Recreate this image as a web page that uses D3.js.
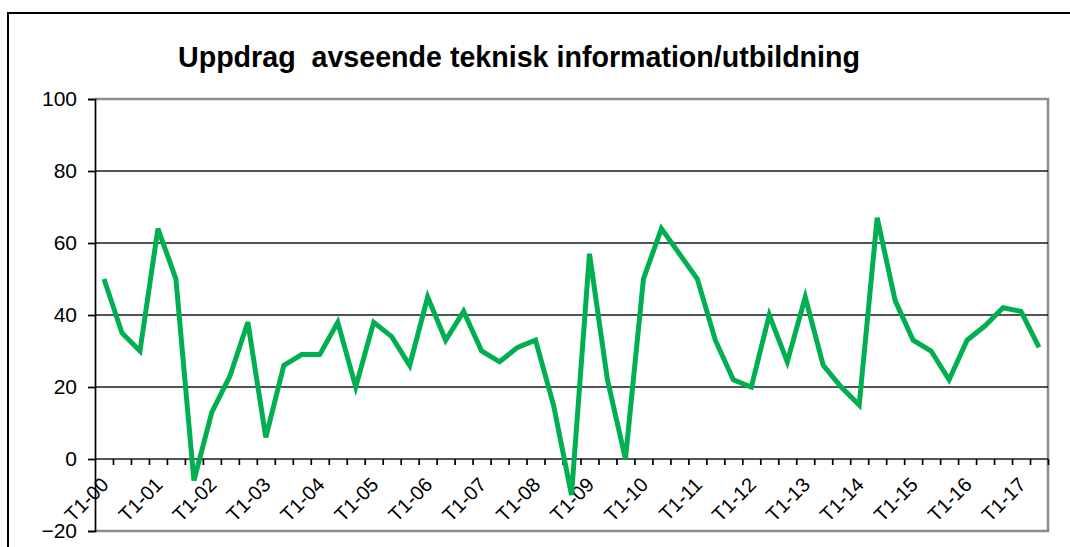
<!DOCTYPE html>
<html>
<head>
<meta charset="utf-8">
<script src="https://cdn.jsdelivr.net/npm/d3@7"></script>
<style>
  html, body { margin: 0; padding: 0; background: #fff; }
  svg { display: block; font-family: "Liberation Sans", Arial, sans-serif; }
  .title { white-space: pre; }
</style>
</head>
<body>
<svg id="chart" width="1070" height="547"></svg>
<script>
// ---- data ----
const title = "Uppdrag  avseende teknisk information/utbildning";
const years = ["00","01","02","03","04","05","06","07","08","09","10","11","12","13","14","15","16","17"];
const categories = [];
years.forEach(y => ["T1","T2","T3"].forEach(t => categories.push(t + "-" + y)));
categories.splice(53); // T1-00 … T2-17
const values = [
  50, 35, 30,  64, 50, -6,  13, 23, 38,   6, 26, 29,  29, 38, 20,  38, 34, 26,
  45, 33, 41,  30, 27, 31,  33, 15, -10,  57, 22, 0,  50, 64, 57,  50, 33, 22,
  20, 40, 27,  45, 26, 20,  15, 67, 44,  33, 30, 22,  33, 37, 42,  41, 31
];
const yTicks = [-20, 0, 20, 40, 60, 80, 100];
const tickLabels = categories.filter(c => c.startsWith("T1"));

// ---- layout ----
const svg = d3.select("#chart");
const L = 95, R = 1048, T = 99, B = 531;

const x = d3.scaleBand().domain(categories).range([L, R]).padding(0);
const xb = d3.scaleLinear().domain([0, categories.length]).range([L, R]);
const y = d3.scaleLinear().domain([-20, 100]).range([B, T]);

// outer frame
svg.append("rect").attr("x", 8).attr("y", 13).attr("width", 1080).attr("height", 560)
  .attr("fill", "none").attr("stroke", "#000").attr("stroke-width", 2);

// title
svg.append("text").attr("class", "title").attr("x", 178).attr("y", 66.5)
  .attr("font-size", 30).attr("font-weight", "bold").attr("fill", "#000")
  .attr("textLength", 682).attr("lengthAdjust", "spacingAndGlyphs")
  .text(title);

// plot area border (gray top/right/bottom)
svg.append("path")
  .attr("d", `M${L},${T}H${R}V${B}H${L}`)
  .attr("fill", "none").attr("stroke", "#8c8c8c").attr("stroke-width", 2.5);

// gridlines
svg.append("g").selectAll("line")
  .data(yTicks.filter(v => v > -20 && v < 100))
  .join("line")
  .attr("x1", L).attr("x2", R)
  .attr("y1", d => y(d)).attr("y2", d => y(d))
  .attr("stroke", "#1a1a1a").attr("stroke-width", 1.7);

// y axis
const yAxis = svg.append("g").attr("transform", `translate(${L},0)`)
  .call(d3.axisLeft(y).tickValues(yTicks).tickSize(7).tickPadding(11).tickFormat(d3.format("d")));
yAxis.select(".domain").attr("stroke", "#000").attr("stroke-width", 1.7);
yAxis.selectAll(".tick line").attr("stroke", "#000").attr("stroke-width", 1.7);
yAxis.selectAll(".tick text").attr("font-size", 21).attr("fill", "#000")
  .attr("font-family", "'Liberation Sans', Arial, sans-serif");

// x axis ticks at category boundaries along the zero line
const xAxis = svg.append("g").attr("transform", `translate(0,${y(0)})`)
  .call(d3.axisBottom(xb).tickValues(d3.range(1, categories.length + 1)).tickSize(6).tickFormat(""));
xAxis.select(".domain").remove();
xAxis.selectAll(".tick line").attr("stroke", "#000").attr("stroke-width", 1.7);

// x labels (every T1)
svg.append("g").selectAll("text")
  .data(tickLabels)
  .join("text")
  .attr("transform", d => `translate(${x(d) + x.bandwidth() / 2 + 6},${y(0) + 27}) rotate(-45)`)
  .attr("text-anchor", "end")
  .attr("font-size", 20).attr("fill", "#000")
  .text(d => d);

// line
const line = d3.line()
  .x((d, i) => x(categories[i]) + x.bandwidth() / 2)
  .y(d => y(d));
svg.append("path").datum(values)
  .attr("d", line)
  .attr("fill", "none").attr("stroke", "#00B050").attr("stroke-width", 5)
  .attr("stroke-linejoin", "miter").attr("stroke-miterlimit", 4);
</script>
</body>
</html>
